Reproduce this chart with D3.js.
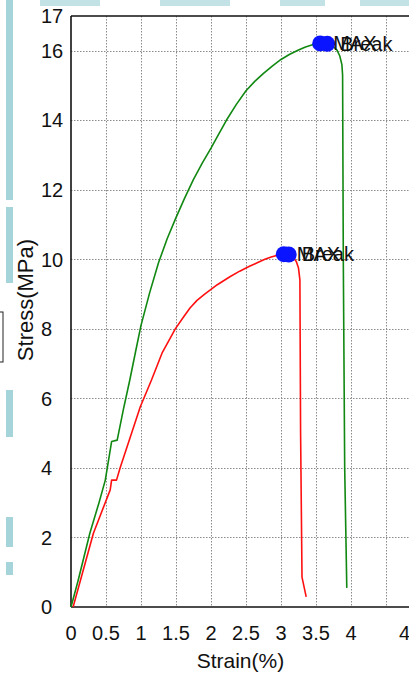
<!DOCTYPE html>
<html>
<head>
<meta charset="utf-8">
<script src="https://cdn.jsdelivr.net/npm/d3@7"></script>
<style>
  html, body { margin: 0; padding: 0; background: #fff; }
  svg { display: block; font-family: Arial, "Liberation Sans", sans-serif; }
</style>
</head>
<body>
<svg id="chart" width="409" height="677"></svg>
<script>
// Stress–strain curves of two specimens: [strain %, stress MPa]
const greenCurve = [
  [0, 0], [0.1, 0.75], [0.27, 2.13], [0.4, 3.0], [0.49, 3.65], [0.58, 4.76],
  [0.66, 4.8], [0.75, 5.7], [0.84, 6.53], [0.92, 7.32], [1.0, 8.1], [1.125, 9.05],
  [1.25, 9.9], [1.375, 10.6], [1.5, 11.2], [1.625, 11.77], [1.75, 12.3],
  [1.875, 12.77], [2.0, 13.2], [2.11, 13.6], [2.22, 14.0], [2.36, 14.45],
  [2.5, 14.85], [2.625, 15.12], [2.75, 15.35], [2.875, 15.56], [3.0, 15.75],
  [3.125, 15.9], [3.25, 16.02], [3.35, 16.11], [3.45, 16.17], [3.56, 16.21],
  [3.66, 16.2], [3.74, 16.13], [3.8, 16.02], [3.84, 15.85], [3.87, 15.6],
  [3.88, 15.3], [3.89, 10.0], [3.91, 4.0], [3.94, 0.55]
];
const redCurve = [
  [0.03, 0], [0.32, 2.12], [0.56, 3.37], [0.58, 3.65], [0.65, 3.65], [0.7, 3.99],
  [0.99, 5.76], [1.15, 6.53], [1.3, 7.3], [1.49, 8.0], [1.6, 8.32], [1.7, 8.6],
  [1.8, 8.82], [1.91, 9.0], [2.09, 9.27], [2.27, 9.5], [2.41, 9.66], [2.55, 9.8],
  [2.66, 9.9], [2.77, 10.0], [2.86, 10.07], [2.95, 10.12], [3.04, 10.15],
  [3.11, 10.14], [3.17, 10.08], [3.22, 9.93], [3.25, 9.75], [3.27, 9.41],
  [3.28, 5.0], [3.3, 0.86], [3.36, 0.29]
];
// Marked points: MAX and Break on each curve
const markers = [
  { label: "MAX",   x: 3.56, y: 16.21 },
  { label: "Break", x: 3.66, y: 16.2 },
  { label: "MAX",   x: 3.04, y: 10.15 },
  { label: "Break", x: 3.11, y: 10.14 }
];
const xTicks = [0, 0.5, 1, 1.5, 2, 2.5, 3, 3.5, 4];
const xTickLabels = ["0", "0.5", "1", "1.5", "2", "2.5", "3", "3.5", "4"];
const xGrid = [0.5, 1, 1.5, 2, 2.5, 3, 3.5, 4, 4.5];
const yTicks = [0, 2, 4, 6, 8, 10, 12, 14, 16, 17];
const yGrid = [2, 4, 6, 8, 10, 12, 14, 16];

const svg = d3.select("#chart");
const W = 409, H = 677;

// soft cyan decoration along the left and top edges
const deco = svg.append("g").attr("fill", "#8fcbd1");
[[0, 200], [207, 283], [390, 437], [517, 547], [562, 575]].forEach(([a, b]) =>
  deco.append("rect").attr("x", 6).attr("y", a).attr("width", 7).attr("height", b - a).attr("opacity", 0.8));
[[40, 100], [160, 230], [280, 325], [360, 409]].forEach(([a, b]) =>
  deco.append("rect").attr("x", a).attr("y", 0).attr("width", b - a).attr("height", 6).attr("opacity", 0.55));
svg.append("rect").attr("x", -2).attr("y", 312).attr("width", 5).attr("height", 50)
  .attr("fill", "none").attr("stroke", "#222").attr("stroke-width", 1);

const x = d3.scaleLinear().domain([0, 5]).range([71, 421]);
const y = d3.scaleLinear().domain([0, 17]).range([607, 16]);

// dotted grid
const grid = svg.append("g").attr("stroke", "#8a8a8a").attr("stroke-width", 1)
  .attr("stroke-dasharray", "1.5,1.5");
xGrid.forEach(v => grid.append("line")
  .attr("x1", Math.round(x(v)) + 0.5).attr("x2", Math.round(x(v)) + 0.5)
  .attr("y1", y(17)).attr("y2", y(0)));
yGrid.forEach(v => grid.append("line")
  .attr("x1", x(0)).attr("x2", W)
  .attr("y1", Math.round(y(v)) + 0.5).attr("y2", Math.round(y(v)) + 0.5));

// frame: top, left, bottom
const frame = svg.append("g").attr("stroke", "#111").attr("stroke-width", 1.6);
frame.append("line").attr("x1", x(0)).attr("x2", W).attr("y1", y(17)).attr("y2", y(17));
frame.append("line").attr("x1", x(0)).attr("x2", x(0)).attr("y1", y(17)).attr("y2", y(0));
frame.append("line").attr("x1", x(0)).attr("x2", W).attr("y1", y(0)).attr("y2", y(0));

// tick labels
const tl = svg.append("g").attr("font-size", 20).attr("fill", "#111");
yTicks.forEach(v => tl.append("text").attr("x", 41).attr("y", y(v)).attr("dy", "0.36em")
  .text(v));
xTicks.forEach((v, i) => tl.append("text").attr("x", x(v)).attr("y", 640)
  .attr("text-anchor", "middle").text(xTickLabels[i]));
tl.append("text").attr("x", x(4.5) + 13).attr("y", 640).text("4.5");

// axis titles
svg.append("text").attr("x", x(2.42)).attr("y", 668).attr("text-anchor", "middle")
  .attr("font-size", 21).attr("fill", "#111").text("Strain(%)");
svg.append("text").attr("transform", "translate(33,300) rotate(-90)")
  .attr("text-anchor", "middle").attr("font-size", 22).attr("fill", "#111").text("Stress(MPa)");

// curves
const line = d3.line().x(d => x(d[0])).y(d => y(d[1]));
svg.append("path").datum(greenCurve).attr("d", line)
  .attr("fill", "none").attr("stroke", "#118811").attr("stroke-width", 1.6)
  .attr("stroke-linejoin", "round");
svg.append("path").datum(redCurve).attr("d", line)
  .attr("fill", "none").attr("stroke", "#ff1010").attr("stroke-width", 1.6)
  .attr("stroke-linejoin", "round");

// markers and their labels
svg.append("g").selectAll("ellipse").data(markers).join("ellipse")
  .attr("cx", d => x(d.x)).attr("cy", d => y(d.y)).attr("rx", 8).attr("ry", 8)
  .attr("fill", "#0a14ff");
svg.append("g").selectAll("text").data(markers).join("text")
  .attr("x", d => x(d.x) + 13).attr("y", d => y(d.y) + 7)
  .attr("font-size", 20).attr("fill", "#111").text(d => d.label);
</script>
</body>
</html>
